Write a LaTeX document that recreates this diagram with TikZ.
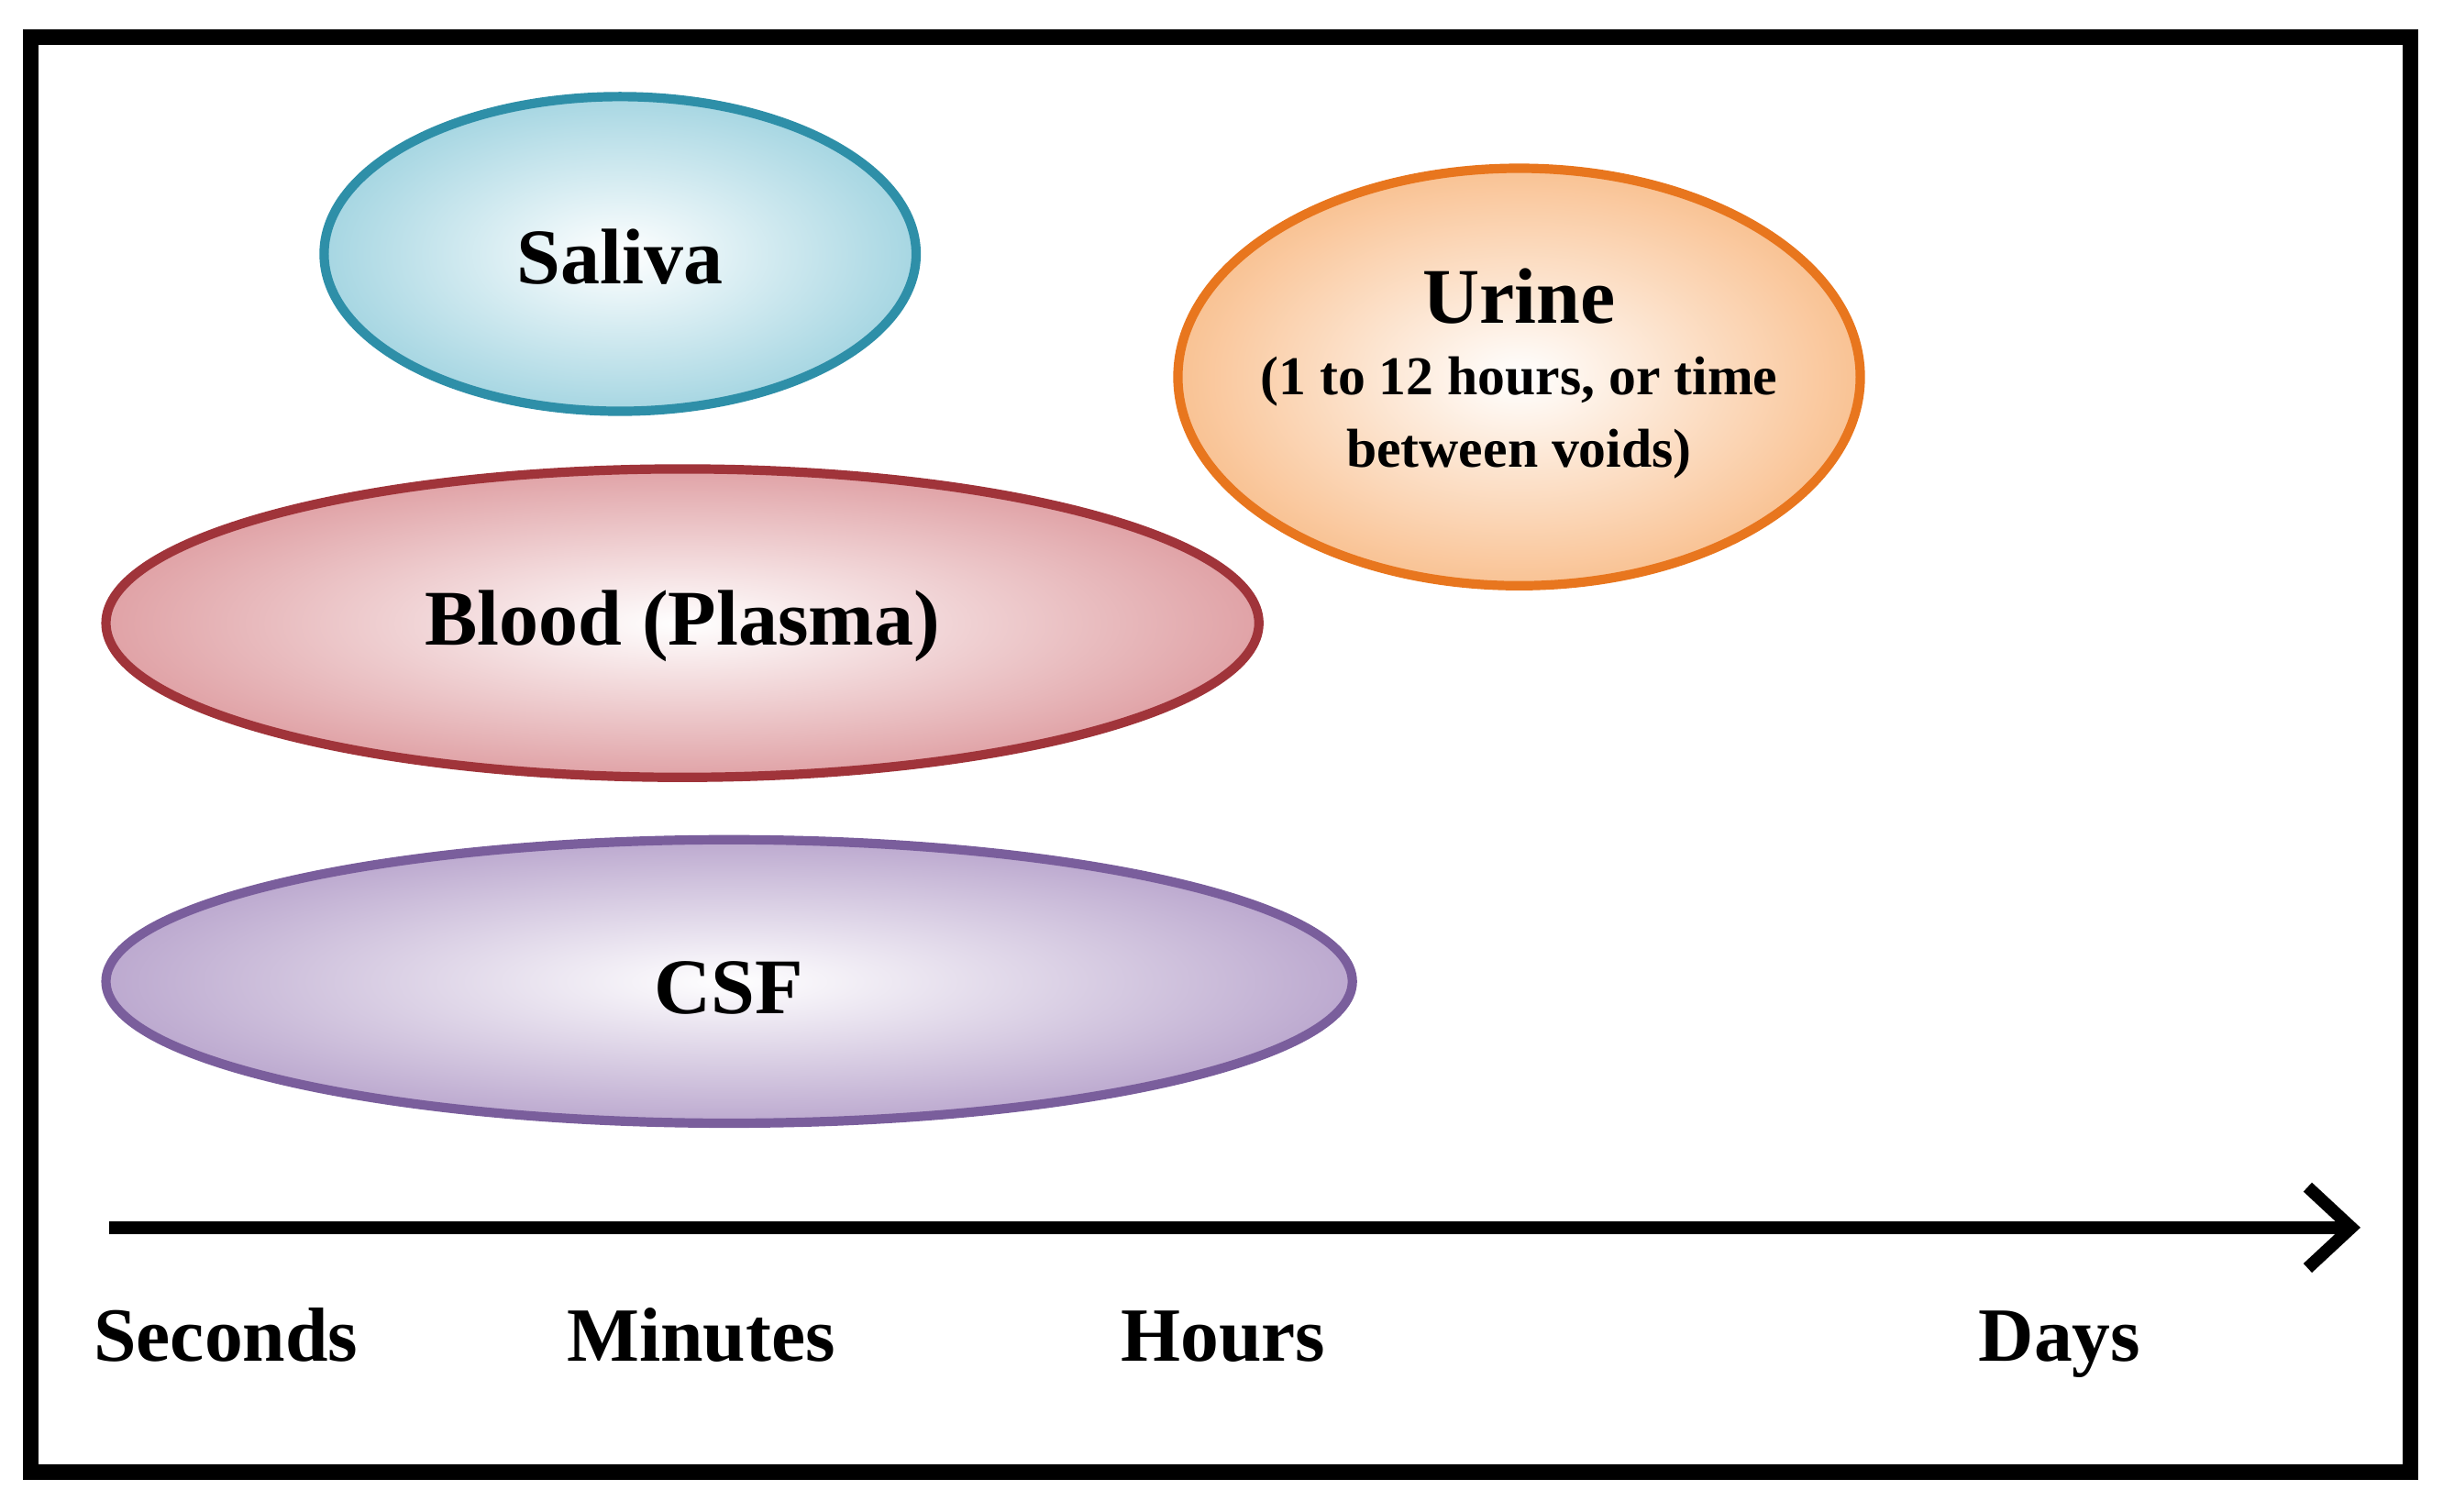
\documentclass[tikz,border=0pt]{standalone}
\usepackage{fontspec}
\setmainfont{Liberation Serif}
\usetikzlibrary{arrows.meta}
\begin{document}
\begin{tikzpicture}[x=0.05cm,y=-0.05cm,
  lbl/.style={font=\fontsize{72}{80}\selectfont\bfseries},
  axis/.style={font=\fontsize{70}{80}\selectfont\bfseries, anchor=base}]
\useasboundingbox (0,0) rectangle (1568,970);
\draw[line width=0.5cm] (20,24) rectangle (1547,945);
\definecolor{salb}{HTML}{2E8FA8}\definecolor{salf}{HTML}{A6D6E2}
\definecolor{urb}{HTML}{E8761E}\definecolor{urf}{HTML}{F9C293}
\definecolor{blb}{HTML}{A0343A}\definecolor{blf}{HTML}{E0A2A6}
\definecolor{csb}{HTML}{7A5E9C}\definecolor{csf}{HTML}{BCA9CF}
\shade[inner color=white, outer color=salf] (398,163) ellipse [x radius=190, y radius=101];
\draw[salb, line width=0.3cm] (398,163) ellipse [x radius=190, y radius=101];
\shade[inner color=white, outer color=urf] (975,242) ellipse [x radius=219, y radius=134];
\draw[urb, line width=0.3cm] (975,242) ellipse [x radius=219, y radius=134];
\shade[inner color=white, outer color=blf] (438,400) ellipse [x radius=370, y radius=99];
\draw[blb, line width=0.3cm] (438,400) ellipse [x radius=370, y radius=99];
\shade[inner color=white, outer color=csf] (468,630) ellipse [x radius=400, y radius=91];
\draw[csb, line width=0.3cm] (468,630) ellipse [x radius=400, y radius=91];
\node[lbl] (sal) at (398,165) {Saliva};
\node[lbl] (uri) at (975,190) {Urine};
\node[font=\fontsize{50}{66}\selectfont\bfseries, align=center] (urit) at (975,268) {(1 to 12 hours, or time\\between voids)};
\node[lbl] (bl) at (438,402) {Blood (Plasma)};
\node[lbl] (cs) at (468,634) {CSF};
\coordinate (a0) at (70,788);
\coordinate (a1) at (1515,788);
\draw[line width=0.4cm, -{Straight Barb[length=1.4cm,width=2.6cm,line width=0.4cm]}] (a0) -- (a1);
\node[axis] (s) at (145,874) {Seconds};
\node[axis] (m) at (450,874) {Minutes};
\node[axis] (h) at (785,874) {Hours};
\node[axis] (d) at (1322,874) {Days};
\end{tikzpicture}
\end{document}
